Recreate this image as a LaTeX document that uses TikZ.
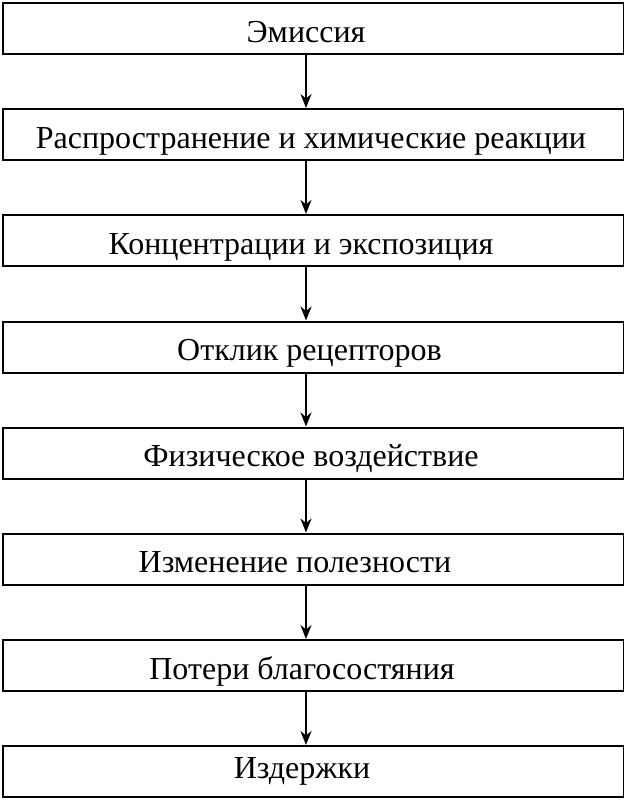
\documentclass[tikz,border=0pt]{standalone}
\usepackage{fontspec}
\setmainfont{Liberation Serif}
\usetikzlibrary{arrows.meta}
\begin{document}
\begin{tikzpicture}[x=1pt,y=-1pt,
  box/.style={draw,line width=2pt,minimum width=621pt,minimum height=51pt,inner sep=0pt,anchor=north west},
  lbl/.style={anchor=base,inner sep=0pt,font=\fontsize{32}{34}\selectfont},
  arr/.style={line width=2pt,-{Stealth[length=14pt,width=11pt]}}]
\useasboundingbox (0,0) rectangle (624,801);
\node[box] (b1) at (1.5,2) {};
\node[box] (b2) at (1.5,108) {};
\node[box] (b3) at (1.5,214) {};
\node[box] (b4) at (1.5,320.5) {};
\node[box] (b5) at (1.5,426.5) {};
\node[box] (b6) at (1.5,532.5) {};
\node[box] (b7) at (1.5,639) {};
\node[box] (b8) at (1.5,745) {};
\node[lbl] (t1) at (306,42) {Эмиссия};
\node[lbl] (t2) at (311,148) {Распространение и химические реакции};
\node[lbl] (t3) at (301,254) {Концентрации и экспозиция};
\node[lbl] (t4) at (309.5,360) {Отклик рецепторов};
\node[lbl] (t5) at (311,466) {Физическое воздействие};
\node[lbl] (t6) at (295,572) {Изменение полезности};
\node[lbl] (t7) at (302,679) {Потери благосостяния};
\node[lbl] (t8) at (302,778) {Издержки};
\foreach \a/\b in {b1/b2,b2/b3,b3/b4,b4/b5,b5/b6,b6/b7,b7/b8}
  \draw[arr] (\a.south west -| 306,0) -- (\b.north west -| 306,0);
\end{tikzpicture}
\end{document}
